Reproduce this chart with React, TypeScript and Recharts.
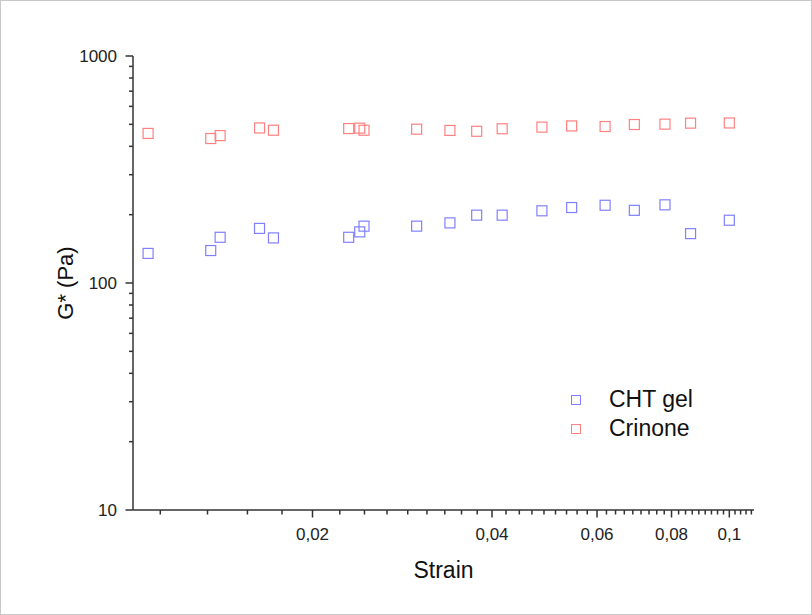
import React from 'react';
import { ScatterChart, Scatter, XAxis, YAxis } from 'recharts';

// strain values shared by both samples
const strain = [0.0106, 0.0135, 0.0140, 0.0163, 0.0172, 0.0230, 0.0240, 0.0244, 0.0299, 0.0340, 0.0377, 0.0416, 0.0485, 0.0544, 0.0619, 0.0693, 0.0780, 0.0861, 0.1000];
const chtGel = [135, 139, 159, 174, 158, 159, 168, 178, 178, 184, 199, 199, 208, 215, 220, 209, 221, 165, 189];
const crinone = [456, 433, 446, 482, 471, 479, 481, 471, 476, 470, 466, 478, 486, 492, 489, 499, 501, 506, 507];

const xMajor = [0.02, 0.04, 0.06, 0.08, 0.1];
const xMajorLabels = ['0,02', '0,04', '0,06', '0,08', '0,1'];
const yMajor = [10, 100, 1000];
const yMajorLabels = ['10', '100', '1000'];
const yMinor = [20, 30, 40, 50, 60, 70, 80, 90, 200, 300, 400, 500, 600, 700, 800, 900];

// Origin-style minor ticks: every 0.02/9 between the majors
const xMinor: number[] = [];
for (let k = 5; k <= 49; k++) {
  if (k % 9 !== 0) xMinor.push((k * 0.02) / 9);
}

const chtData = strain.map((x, i) => ({ x, y: chtGel[i] }));
const crinoneData = strain.map((x, i) => ({ x, y: crinone[i] }));

const BLUE = '#8080ff';
const RED = '#ff8080';
const AXIS = '#333333';
const FONT = '"Liberation Sans", Arial, sans-serif';

const findMajor = (list: number[], v: number) => list.findIndex((m) => Math.abs(m - v) < 1e-9);

const XTick = (props: any) => {
  const { x, y, payload } = props;
  const idx = findMajor(xMajor, payload.value);
  const len = idx >= 0 ? 7.5 : 4.5;
  return (
    <g>
      <line x1={x} x2={x} y1={y} y2={y + len} stroke={AXIS} strokeWidth={1.5} />
      {idx >= 0 && (
        <text x={x} y={y + 30} textAnchor="middle" fontSize={17} fontFamily={FONT} fill="#222">
          {xMajorLabels[idx]}
        </text>
      )}
    </g>
  );
};

const YTick = (props: any) => {
  const { x, y, payload } = props;
  const idx = findMajor(yMajor, payload.value);
  const len = idx >= 0 ? 7.5 : 4;
  return (
    <g>
      <line x1={x - len} x2={x} y1={y} y2={y} stroke={AXIS} strokeWidth={1.5} />
      {idx >= 0 && (
        <text x={x - 16} y={y + 6} textAnchor="end" fontSize={17} fontFamily={FONT} fill="#222">
          {yMajorLabels[idx]}
        </text>
      )}
    </g>
  );
};

const squareShape = (color: string) => (props: any) => {
  const { cx, cy } = props;
  return <rect x={cx - 5} y={cy - 5} width={10} height={10} fill="none" stroke={color} strokeWidth={1.2} />;
};

const renderXTitle = (props: any) => {
  const vb = props.viewBox || { x: 133, y: 510, width: 621 };
  return (
    <text x={vb.x + vb.width / 2} y={vb.y + 68} textAnchor="middle" fontSize={23} fontFamily={FONT} fill="#111">
      Strain
    </text>
  );
};

const renderYTitle = (props: any) => {
  const vb = props.viewBox || { x: 0, y: 56, height: 454 };
  const tx = vb.x + 73;
  const ty = vb.y + vb.height / 2;
  return (
    <text x={tx} y={ty} transform={`rotate(-90 ${tx} ${ty})`} textAnchor="middle" fontSize={22} fontFamily={FONT} fill="#111">
      G* (Pa)
    </text>
  );
};

const legendItems = [
  { name: 'CHT gel', color: BLUE },
  { name: 'Crinone', color: RED },
];

export default function App() {
  return (
    <div
      style={{
        position: 'absolute',
        left: 0,
        top: 0,
        width: 812,
        height: 615,
        background: '#fff',
        boxShadow: 'inset 0 0 0 1px #c8c8c8',
      }}
    >
      <ScatterChart width={812} height={615} margin={{ top: 56, right: 58, bottom: 0, left: 0 }}>
        <XAxis
          type="number"
          dataKey="x"
          scale="log"
          domain={[0.01, 0.11]}
          allowDataOverflow
          ticks={[...xMinor, ...xMajor].sort((a, b) => a - b)}
          interval={0}
          tickSize={0}
          tickMargin={0}
          tickLine={false}
          axisLine={{ stroke: AXIS, strokeWidth: 1.5 }}
          height={105}
          tick={(p: any) => <XTick {...p} />}
          label={renderXTitle}
        />
        <YAxis
          type="number"
          dataKey="y"
          scale="log"
          domain={[10, 1000]}
          allowDataOverflow
          ticks={[...yMinor, ...yMajor].sort((a, b) => a - b)}
          interval={0}
          tickSize={0}
          tickMargin={0}
          tickLine={false}
          axisLine={{ stroke: AXIS, strokeWidth: 1.5 }}
          width={133}
          tick={(p: any) => <YTick {...p} />}
          label={renderYTitle}
        />
        <Scatter name="CHT gel" data={chtData} fill={BLUE} shape={squareShape(BLUE)} isAnimationActive={false} />
        <Scatter name="Crinone" data={crinoneData} fill={RED} shape={squareShape(RED)} isAnimationActive={false} />
      </ScatterChart>
      <div style={{ position: 'absolute', left: 570, top: 385, fontFamily: FONT, fontSize: 23, color: '#111' }}>
        {legendItems.map((it) => (
          <div key={it.name} style={{ display: 'flex', alignItems: 'center', height: 29, lineHeight: '29px' }}>
            <span
              style={{
                display: 'inline-block',
                width: 10,
                height: 10,
                boxSizing: 'border-box',
                border: `1.2px solid ${it.color}`,
                marginLeft: 1,
              }}
            />
            <span style={{ marginLeft: 28 }}>{it.name}</span>
          </div>
        ))}
      </div>
    </div>
  );
}
